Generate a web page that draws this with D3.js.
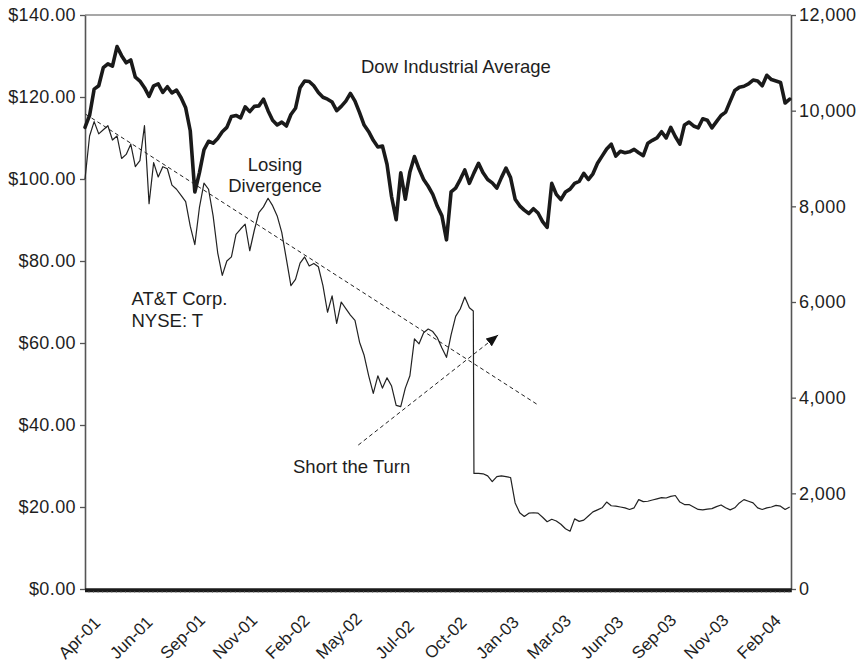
<!DOCTYPE html>
<html><head><meta charset="utf-8">
<script src="https://cdn.jsdelivr.net/npm/d3@7"></script>
<style>
html,body{margin:0;padding:0;background:#fff;}
svg{display:block;font-family:"Liberation Sans",Arial,Helvetica,sans-serif;}
</style></head><body>
<svg id="chart" width="861" height="665"></svg>
<script>
// ---- data (weekly samples starting at firstWeek) ----
const firstWeek = "2001-04-02";
const attWeekly = [
  100, 110.5, 114, 111, 112, 113, 109.5, 110.5, 105, 106,
  108.5, 103, 104.5, 113, 94, 104, 100.5, 103, 102.5, 98.5,
  97.5, 96, 94.5, 88.5, 84, 93, 99, 97.5, 91, 82,
  76.5, 80, 81, 86.5, 87.8, 89, 82.5, 87.5, 91.8, 93.2,
  95.3, 93.5, 91, 87, 80.5, 74, 75.5, 79.5, 81, 78.8,
  79.4, 78.6, 74, 67.5, 71.5, 64.8, 70, 68.4, 66.8, 65.5,
  60.2, 57, 52, 47.7, 52, 49, 51.5, 49.5, 44.8, 44.5,
  49, 52, 61, 59.8, 62.5, 63.4, 62.8, 61.3, 58.8, 56.5,
  62, 66.5, 68.3, 71.2, 68.6, 28.2, 28.2, 28.1, 27.6, 26.2,
  27.4, 27.6, 27.4, 27.2, 21, 18.6, 17.7, 18.5, 18.6, 18.5,
  17.5, 16.4, 17, 16.6, 15.8, 14.7, 14.1, 17.1, 16.5, 16.8,
  17.8, 18.8, 19.3, 19.8, 21.2, 20.3, 20.2, 20, 19.8, 19.4,
  19.8, 21.8, 21.3, 21.4, 21.7, 22, 22.3, 22.2, 22.6, 22.8,
  21.2, 20.6, 20.6, 20, 19.4, 19.3, 19.5, 19.6, 20.1, 20.5,
  19.8, 19.3, 19.8, 21, 21.8, 21.4, 21, 19.8, 19.4, 19.8,
  20, 20.4, 20.2, 19.4, 20
];
const dowWeekly = [
  9650, 9900, 10450, 10520, 10900, 10980, 10930, 11340, 11150, 11000,
  11060, 10700, 10620, 10480, 10300, 10520, 10560, 10380, 10500, 10370,
  10430, 10270, 10060, 9580, 8300, 8700, 9180, 9360, 9320, 9420,
  9560, 9650, 9880, 9900, 9850, 10080, 9980, 10090, 10100, 10240,
  10000, 9800, 9700, 9760, 9680, 9920, 10050, 10480, 10620, 10610,
  10520, 10380, 10280, 10240, 10180, 10000, 10090, 10200, 10360, 10200,
  9960, 9700, 9560, 9380, 9240, 9260, 8880, 8200, 7720, 8700,
  8150, 8720, 9040, 8780, 8560, 8420, 8250, 8000, 7800, 7300,
  8300, 8380, 8560, 8760, 8480, 8700, 8900, 8700, 8560, 8490,
  8380, 8600, 8800, 8600, 8150, 8010, 7920, 7850, 7950, 7860,
  7680, 7560, 8480, 8250, 8140, 8300, 8360, 8480, 8520, 8690,
  8560, 8680, 8900, 9050, 9200, 9300, 9050, 9150, 9120, 9140,
  9190, 9120, 9060, 9320, 9380, 9430, 9560, 9430, 9650, 9460,
  9300, 9700, 9760, 9680, 9640, 9830, 9800, 9640, 9770, 9900,
  9970, 10200, 10420, 10490, 10510, 10560, 10640, 10620, 10520, 10740,
  10650, 10620, 10590, 10160, 10240
];
const attSplitDate = "2002-11-17";
const attPreSplit = 67.8;
const xDomain = ["2001-04-02", "2004-03-17"];
const tickDates = ["2001-04-02","2001-06-21","2001-09-09","2001-11-28","2002-02-16","2002-05-07",
  "2002-07-26","2002-10-14","2003-01-02","2003-03-23","2003-06-11","2003-08-31","2003-11-19","2004-02-07"];
const tickLabels = ["Apr-01","Jun-01","Sep-01","Nov-01","Feb-02","May-02","Jul-02","Oct-02",
  "Jan-03","Mar-03","Jun-03","Sep-03","Nov-03","Feb-04"];
const leftTicks = [0, 20, 40, 60, 80, 100, 120, 140];
const rightTicks = [0, 2000, 4000, 6000, 8000, 10000, 12000];
const trendLine = [["2001-04-03", 115.8], ["2003-02-24", 44.9]];
const turnLine = [["2002-05-25", 35.1], ["2002-12-25", 61.95]];

// ---- layout ----
const L = 85, R = 791, T = 15, B = 589;
const parse = d3.utcParse("%Y-%m-%d");
const svg = d3.select("#chart");
const ink = "#1e1e1e";
const FONT = '"Liberation Sans", Arial, sans-serif';

const x = d3.scaleUtc().domain(xDomain.map(parse)).range([L, R]);
const yL = d3.scaleLinear().domain([0, 140]).range([B, T]);
const yR = d3.scaleLinear().domain([0, 12000]).range([B, T]);

const start = parse(firstWeek);
const att = attWeekly.map((v, i) => ({date: d3.utcDay.offset(start, 7 * i), v}));
const split = parse(attSplitDate);
const attPts = att.filter(d => d.date < split)
  .concat([{date: split, v: attPreSplit}])
  .concat(att.filter(d => d.date > split));
const dow = dowWeekly.map((v, i) => ({date: d3.utcDay.offset(start, 7 * i), v}));

// top border
svg.append("line").attr("x1", L).attr("x2", R).attr("y1", T).attr("y2", T)
  .attr("stroke", "#8a8a8a").attr("stroke-width", 1.5);

// left axis
const gL = svg.append("g").attr("transform", `translate(${L},0)`)
  .call(d3.axisLeft(yL).tickValues(leftTicks).tickSize(5).tickSizeOuter(0).tickPadding(4)
    .tickFormat(d => "$" + d.toFixed(2)));
// right axis
const gR = svg.append("g").attr("transform", `translate(${R},0)`)
  .call(d3.axisRight(yR).tickValues(rightTicks).tickSize(5).tickSizeOuter(0).tickPadding(3)
    .tickFormat(d3.format(",")));
[gL, gR].forEach(g => {
  g.select(".domain").attr("stroke", "#555").attr("stroke-width", 1.6);
  g.selectAll(".tick line").attr("stroke", "#555").attr("stroke-width", 1.3);
  g.selectAll(".tick text").attr("fill", ink).attr("font-size", 18)
    .attr("letter-spacing", 0.4).attr("font-family", FONT);
});

// bottom axis (thick band + rotated labels)
const gB = svg.append("g").attr("transform", `translate(0,${B})`)
  .call(d3.axisBottom(x).tickValues(tickDates.map(parse)).tickSize(0)
    .tickFormat((d, i) => tickLabels[i]));
gB.select(".domain").remove();
gB.selectAll(".tick text")
  .attr("fill", ink).attr("font-size", 17).attr("font-family", FONT)
  .attr("text-anchor", "end").attr("x", 0).attr("y", 0).attr("dy", 0)
  .each(function() {
    const len = this.getComputedTextLength();
    const k = Math.SQRT1_2;
    // end of label sits right of the tick; label starts on a common lower line
    d3.select(this).attr("transform", `translate(16,${71 - k * len}) rotate(-45)`);
  });
svg.append("line").attr("x1", L).attr("x2", R + 0.8).attr("y1", B + 1.3).attr("y2", B + 1.3)
  .attr("stroke", "#1a1a1a").attr("stroke-width", 4);
const minor = d3.utcWeek.range(parse(xDomain[0]), parse(xDomain[1]));
svg.append("g").selectAll("line").data(minor).join("line")
  .attr("x1", d => x(d)).attr("x2", d => x(d)).attr("y1", B + 2).attr("y2", B + 4)
  .attr("stroke", "#6a6a6a").attr("stroke-width", 0.6);

// series
const lineL = d3.line().x(d => x(d.date)).y(d => yL(d.v));
const lineR = d3.line().x(d => x(d.date)).y(d => yR(d.v));
svg.append("path").datum(attPts).attr("d", lineL)
  .attr("fill", "none").attr("stroke", "#222").attr("stroke-width", 1.2)
  .attr("stroke-linejoin", "round");
svg.append("path").datum(dow).attr("d", lineR)
  .attr("fill", "none").attr("stroke", "#1a1a1a").attr("stroke-width", 3.6)
  .attr("stroke-linejoin", "round").attr("stroke-linecap", "round");

// dashed annotation lines
const defs = svg.append("defs");
defs.append("marker").attr("id", "arrow").attr("viewBox", "0 0 12 10")
  .attr("refX", 12).attr("refY", 5).attr("markerWidth", 12).attr("markerHeight", 10)
  .attr("markerUnits", "userSpaceOnUse").attr("orient", "auto")
  .append("path").attr("d", "M0,0 L12,5 L0,10 Z").attr("fill", "#111");
const dl = d3.line().x(d => x(parse(d[0]))).y(d => yL(d[1]));
svg.append("path").datum(trendLine).attr("d", dl)
  .attr("fill", "none").attr("stroke", "#222").attr("stroke-width", 1)
  .attr("stroke-dasharray", "4,3");
svg.append("path").datum(turnLine).attr("d", dl)
  .attr("fill", "none").attr("stroke", "#222").attr("stroke-width", 1)
  .attr("stroke-dasharray", "4,3").attr("marker-end", "url(#arrow)");

// annotation text
const notes = [
  {t: "Dow Industrial Average", x: 361, y: 73, a: "start"},
  {t: "Losing", x: 275, y: 170.5, a: "middle"},
  {t: "Divergence", x: 275, y: 192, a: "middle"},
  {t: "AT&T Corp.", x: 131.5, y: 304.5, a: "start"},
  {t: "NYSE: T", x: 131.5, y: 326.5, a: "start"},
  {t: "Short the Turn", x: 293, y: 473, a: "start"}
];
svg.append("g").selectAll("text").data(notes).join("text")
  .attr("x", d => d.x).attr("y", d => d.y).attr("text-anchor", d => d.a)
  .attr("font-size", 18.5).attr("fill", ink).text(d => d.t);
</script>
</body></html>
